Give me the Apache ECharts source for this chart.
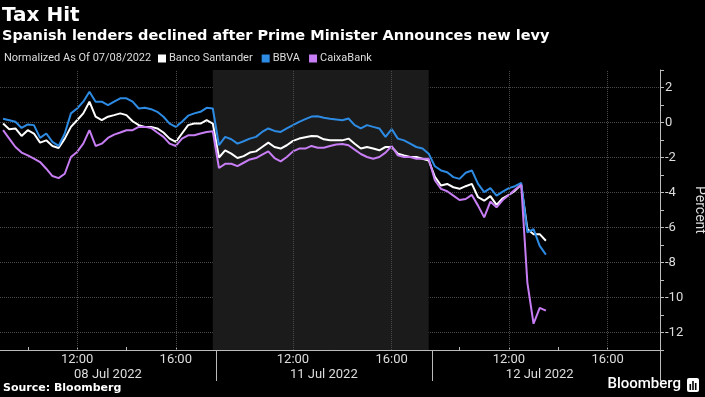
<!DOCTYPE html>
<html>
<head>
<meta charset="utf-8">
<title>Tax Hit</title>
<script src="https://cdn.jsdelivr.net/npm/echarts@6/dist/echarts.min.js"></script>
<style>
  html, body { margin: 0; padding: 0; background: #000; }
  #chart { width: 705px; height: 397px; }
</style>
</head>
<body>
<div id="chart"></div>
<script>
// trading days on the x axis, 15 minute slots from 09:00
const days = ['08 Jul 2022', '11 Jul 2022', '12 Jul 2022'];
const dayLastSlot = ['17:30', '17:30', '18:00'];
const timeLabels = ['12:00', '16:00'];
const minorTicks = ['10:00', '12:00', '14:00', '16:00'];
const yTickLabels = [2, 0, -2, -4, -6, -8, -10, -12];

// Normalized % change
const santanderJul08 = [-0.06, -0.38, -0.34, -0.77, -0.44, -0.63, -1.15, -1.02, -1.34, -1.46, -0.92, -0.25, 0.13, 0.52, 1.19, 0.33, 0.13, 0.33, 0.42, 0.52, 0.42, 0.07, -0.15, -0.25, -0.25, -0.34, -0.57, -0.92, -1.11, -0.63, -0.15, -0.06, -0.06, 0.13, -0.06];
const santanderJul11 = [-2.0, -1.59, -1.78, -2.03, -1.92, -1.72, -1.65, -1.40, -1.15, -1.40, -1.49, -1.30, -1.05, -0.92, -0.84, -0.77, -0.79, -0.96, -1.02, -1.02, -1.02, -0.92, -1.21, -1.49, -1.40, -1.49, -1.59, -1.40, -1.40, -1.78, -1.88, -1.97, -1.97, -2.07, -2.17];
const santanderJul12 = [-3.1, -3.60, -3.51, -3.70, -3.79, -3.64, -3.51, -4.27, -4.47, -4.21, -4.71, -4.33, -4.14, -3.89, -3.56, -6.09, -6.38, -6.38, -6.76];

const bbvaJul08 = [0.21, 0.13, 0.04, -0.31, -0.11, -0.15, -0.88, -0.63, -1.11, -1.34, -0.63, 0.52, 0.80, 1.19, 1.76, 1.19, 1.19, 0.99, 1.19, 1.38, 1.38, 1.19, 0.80, 0.84, 0.76, 0.61, 0.33, -0.06, -0.25, 0.04, 0.39, 0.52, 0.61, 0.84, 0.80];
const bbvaJul11 = [-1.3, -0.82, -0.96, -1.21, -1.07, -0.92, -0.82, -0.54, -0.34, -0.48, -0.54, -0.34, -0.15, 0.04, 0.19, 0.34, 0.36, 0.27, 0.21, 0.17, 0.13, 0.23, -0.15, -0.34, -0.15, -0.25, -0.34, -0.82, -0.38, -0.92, -1.02, -1.21, -1.40, -1.49, -1.78];
const bbvaJul12 = [-2.5, -2.74, -2.84, -3.12, -3.22, -2.87, -2.74, -3.51, -3.98, -3.75, -4.18, -3.95, -3.75, -3.64, -3.45, -6.28, -6.09, -7.05, -7.55];

const caixaJul08 = [-0.44, -0.92, -1.40, -1.72, -1.88, -2.07, -2.26, -2.64, -3.06, -3.18, -2.93, -1.97, -1.68, -1.21, -0.44, -1.34, -1.21, -0.88, -0.69, -0.57, -0.44, -0.44, -0.25, -0.25, -0.31, -0.57, -0.82, -1.21, -1.34, -0.92, -0.73, -0.73, -0.63, -0.54, -0.50];
const caixaJul11 = [-2.6, -2.36, -2.36, -2.49, -2.30, -2.11, -2.03, -1.84, -1.65, -2.03, -2.22, -1.97, -1.65, -1.49, -1.49, -1.34, -1.44, -1.44, -1.34, -1.26, -1.23, -1.30, -1.55, -1.80, -1.97, -2.07, -1.97, -1.72, -1.34, -1.88, -1.97, -1.97, -2.07, -2.07, -2.07];
const caixaJul12 = [-3.3, -3.79, -3.93, -4.18, -4.43, -4.37, -4.14, -4.75, -5.42, -4.52, -4.85, -4.43, -4.14, -3.83, -3.56, -9.16, -11.5, -10.59, -10.75];

const colors = ['#ffffff', '#2d8be3', '#c77df3'];
const font = 'Roboto';

const pad = n => String(n).padStart(2, '0');
const categories = [];
days.forEach((day, d) => {
  const [lh, lm] = dayLastSlot[d].split(':').map(Number);
  for (let m = 9 * 60; m <= lh * 60 + lm; m += 15) {
    categories.push(day + ' ' + pad(Math.floor(m / 60)) + ':' + pad(m % 60));
  }
});
const timeOf = c => c.slice(-5);
const dayOf = c => c.slice(0, -6);

function fill(parts) {
  const out = [];
  days.forEach((day, d) => {
    const n = categories.filter(c => dayOf(c) === day).length;
    for (let i = 0; i < n; i++) out.push(parts[d][i] === undefined ? null : parts[d][i]);
  });
  return out;
}

const santander = fill([santanderJul08, santanderJul11, santanderJul12]);
const bbva = fill([bbvaJul08, bbvaJul11, bbvaJul12]);
const caixa = fill([caixaJul08, caixaJul11, caixaJul12]);

const gridLines = categories.filter(c => timeLabels.includes(timeOf(c)));

const myChart = echarts.init(document.getElementById('chart'));

function line(name, data, color) {
  return {
    name,
    type: 'line',
    data,
    showSymbol: false,
    symbol: 'none',
    connectNulls: false,
    lineStyle: { color, width: 2 },
    itemStyle: { color },
    emphasis: { disabled: true },
    animation: false
  };
}

const series = [
  line('Banco Santander', santander, colors[0]),
  line('BBVA', bbva, colors[1]),
  line('CaixaBank', caixa, colors[2])
];
series[0].markArea = {
  silent: true,
  itemStyle: { color: '#1b1b1b' },
  data: [[{ xAxis: days[0] + ' 17:30' }, { xAxis: days[1] + ' 17:30' }]]
};
series[0].markLine = {
  silent: true,
  symbol: 'none',
  label: { show: false },
  lineStyle: { color: '#4a4a4a', type: 'dotted', width: 1 },
  data: gridLines.map(c => ({ xAxis: c }))
};

myChart.setOption({
  backgroundColor: '#000',
  animation: false,
  title: [
    {
      text: 'Tax Hit', left: 2, top: 6, padding: 0,
      textStyle: { color: '#fff', fontSize: 20, fontWeight: 'bold', fontFamily: 'DejaVu Sans' }
    },
    {
      text: 'Spanish lenders declined after Prime Minister Announces new levy', left: 2, top: 29, padding: 0,
      textStyle: { color: '#fff', fontSize: 14.5, fontWeight: 'bold', fontFamily: 'DejaVu Sans' }
    },
    {
      text: 'Normalized As Of 07/08/2022', left: 4, top: 53, padding: 0,
      textStyle: { color: '#ddd', fontSize: 11, fontWeight: 'normal', fontFamily: font }
    },
    {
      text: 'Source: Bloomberg', left: 3, top: 383, padding: 0,
      textStyle: { color: '#fff', fontSize: 11, fontWeight: 'bold', fontFamily: 'DejaVu Sans' }
    },
    {
      text: 'Bloomberg', right: 24, top: 377, padding: 0,
      textStyle: { color: '#fff', fontSize: 15, fontWeight: 500, fontFamily: font }
    }
  ],
  legend: {
    left: 158,
    top: 53,
    padding: 0,
    icon: 'rect',
    itemWidth: 8,
    itemHeight: 8,
    itemGap: 9,
    selectedMode: false,
    textStyle: { color: '#ddd', fontSize: 11, fontFamily: font, padding: [0, 0, 0, -2] },
    data: series.map((s, i) => ({ name: s.name, itemStyle: { color: colors[i] } }))
  },
  grid: { left: 0, right: 45, top: 70, bottom: 47, containLabel: false, outerBoundsMode: 'none' },
  xAxis: [
    {
      type: 'category',
      data: categories,
      boundaryGap: true,
      axisLine: { onZero: false, lineStyle: { color: '#bbb', width: 1 } },
      axisTick: {
        show: true,
        inside: true,
        length: 3,
        alignWithLabel: true,
        interval: (i, v) => minorTicks.includes(timeOf(v)),
        lineStyle: { color: '#bbb' }
      },
      axisLabel: {
        interval: (i, v) => timeLabels.includes(timeOf(v)),
        formatter: v => timeOf(v),
        color: '#ddd',
        fontSize: 13,
        fontFamily: font,
        margin: 3
      },
      splitLine: { show: false }
    },
    {
      type: 'category',
      data: categories,
      boundaryGap: true,
      position: 'bottom',
      axisLine: { show: false, onZero: false },
      axisTick: {
        show: true,
        length: 31,
        interval: (i, v) => i > 0 && timeOf(v) === '09:00',
        lineStyle: { color: '#bbb' }
      },
      axisLabel: {
        interval: (i, v) => timeOf(v) === '13:15',
        formatter: v => dayOf(v),
        color: '#ddd',
        fontSize: 13,
        fontFamily: font,
        margin: 18
      },
      splitLine: { show: false }
    }
  ],
  yAxis: {
    type: 'value',
    position: 'right',
    min: -13,
    max: 3,
    interval: 1,
    name: 'Percent',
    nameLocation: 'middle',
    nameRotate: -90,
    nameGap: 32,
    nameMoveOverlap: false,
    nameTextStyle: { color: '#ddd', fontSize: 14, fontFamily: font },
    axisLine: { show: true, onZero: false, lineStyle: { color: '#bbb' } },
    axisTick: { show: true, length: 4, lineStyle: { color: '#bbb' } },
    axisLabel: {
      color: '#ddd',
      fontSize: 13,
      fontFamily: font,
      margin: 5,
      formatter: v => (yTickLabels.includes(v) ? String(v) : '')
    },
    splitLine: {
      show: true,
      lineStyle: { color: ['rgba(0,0,0,0)', '#4a4a4a'], type: 'dotted', width: 1 }
    }
  },
  graphic: [
    {
      type: 'group',
      left: 687,
      top: 378,
      children: [
        { type: 'rect', shape: { x: 0, y: 0, width: 12, height: 14, r: 2 }, style: { fill: '#fff' } },
        { type: 'rect', shape: { x: 2.5, y: 6, width: 1.6, height: 6 }, style: { fill: '#000' } },
        { type: 'rect', shape: { x: 5.2, y: 3, width: 1.6, height: 9 }, style: { fill: '#000' } },
        { type: 'rect', shape: { x: 7.9, y: 5, width: 1.6, height: 7 }, style: { fill: '#000' } }
      ]
    }
  ],
  series
});

window.addEventListener('resize', () => myChart.resize());
</script>
</body>
</html>
